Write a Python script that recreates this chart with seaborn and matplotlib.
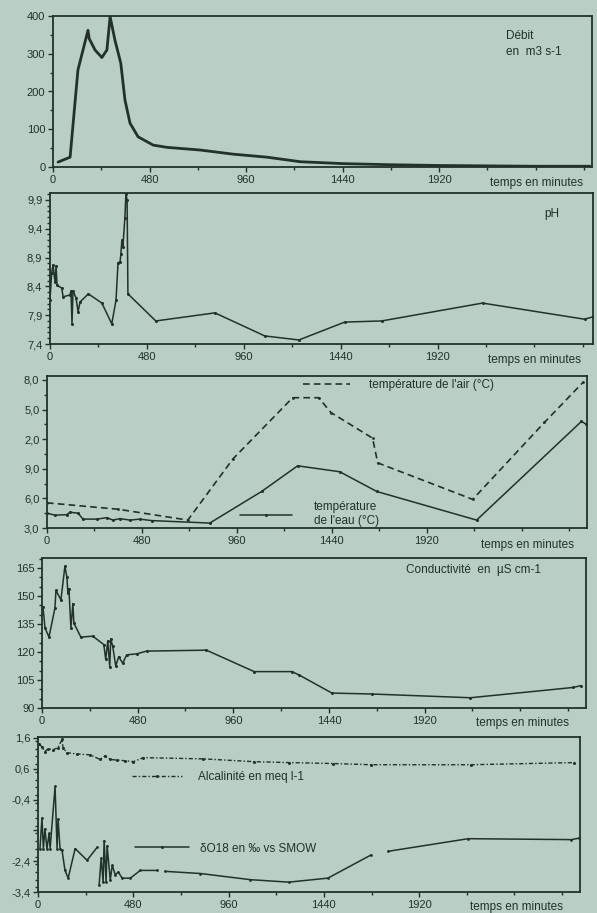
import numpy as np
import pandas as pd
import seaborn as sns
import matplotlib.pyplot as plt
from matplotlib.lines import Line2D
from matplotlib.ticker import MultipleLocator, FixedLocator

# ---- data (time in minutes) ----
debit_t = [25, 85, 124, 174, 180, 209, 243, 268, 284, 308, 337, 358, 383, 423,
           498, 567, 731, 896, 1064, 1229, 1440, 1680, 1920, 2160, 2400, 2670]
debit_q = [13, 26, 257, 362, 340, 310, 290, 310, 398, 336, 275, 177, 116, 80,
           58, 52, 45, 34, 26, 14, 9, 6, 4, 3, 2, 2]

ph_t = [0, 8, 15, 25, 30, 35, 58, 65, 99, 104, 109, 114, 129, 139, 149, 190,
        257, 306, 327, 337, 347, 351, 356, 361, 371, 376, 382, 386, 524, 817,
        1064, 1233, 1460, 1643, 2143, 2648, 2688]
ph_v = [8.16, 8.63, 8.77, 8.47, 8.75, 8.42, 8.37, 8.22, 8.25, 8.32, 7.75, 8.32,
        8.20, 7.96, 8.13, 8.27, 8.11, 7.75, 8.16, 8.81, 8.82, 8.96, 9.20, 9.08,
        9.59, 10.0, 9.9, 8.27, 7.80, 7.94, 7.54, 7.47, 7.78, 7.80, 8.11, 7.83,
        7.87]

air_t = [0, 360, 712, 940, 1242, 1374, 1435, 1646, 1672, 2152, 2515, 2712]
air_v = [5.55, 4.9, 3.8, 10.0, 16.2, 16.2, 14.7, 12.1, 9.6, 5.9, 13.7, 17.8]

eau_t = [0, 40, 100, 116, 157, 182, 252, 303, 333, 369, 419, 470, 530, 823,
         1085, 1267, 1480, 1667, 2172, 2702, 2727]
eau_v = [4.5, 4.3, 4.35, 4.6, 4.5, 3.9, 3.9, 4.05, 3.8, 3.95, 3.8, 3.9, 3.75,
         3.5, 6.7, 9.3, 8.7, 6.7, 3.8, 13.8, 13.5]

cond_t = [5, 15, 35, 65, 70, 95, 115, 125, 130, 135, 145, 155, 160, 195, 255,
          310, 320, 330, 340, 345, 355, 370, 385, 405, 425, 475, 525, 825,
          1065, 1255, 1290, 1455, 1655, 2150, 2665, 2705]
cond_v = [144, 133, 128, 143.6, 153, 148, 166, 160, 151.5, 154, 133, 146, 135.5,
          128, 128.5, 124, 116, 126, 112, 127, 123, 112.5, 117.5, 114, 118.5,
          119, 120.5, 121, 109.5, 109.5, 107.7, 98, 97.5, 95.5, 101, 102]

alc_t = [5, 20, 35, 50, 76, 101, 121, 126, 146, 197, 263, 313, 338, 364, 399,
         439, 480, 530, 833, 1086, 1263, 1485, 1677, 2182, 2702]
alc_v = [1.41, 1.31, 1.15, 1.25, 1.22, 1.28, 1.55, 1.28, 1.12, 1.08, 1.05, 0.9,
         1.02, 0.9, 0.88, 0.86, 0.83, 0.96, 0.92, 0.83, 0.8, 0.77, 0.73, 0.73,
         0.8]

# NaN = gap in the printed line
o18_t = [10, 20, 27, 35, 45, 56, 61, 86, 96, 101, 111, 121, 136, 152, 187, 247,
         298, 303, 308, 318, 328, 333, 343, 348, 364, 374, 389, 404, 424, 465,
         515, 601, 620, 641, 818, 1070, 1263, 1460, 1677, 1720, 1763, 2167,
         2687, 2727]
o18_v = [-1.99, -1.0, -1.99, -1.35, -1.99, -1.5, -1.99, 0.03, -1.99, -1.03,
         -1.99, -2.05, -2.7, -2.95, -1.99, -2.37, -1.95, np.nan, -3.17, -2.3,
         -3.08, -1.73, -3.08, -1.9, -3.01, -2.53, -2.85, -2.75, -2.95, -2.95,
         -2.7, -2.7, np.nan, -2.73, -2.8, -3.0, -3.08, -2.95, -2.2, np.nan,
         -2.08, -1.67, -1.7, -1.65]

xticks = [0, 480, 960, 1440, 1920]
temp_ticks = [3, 6, 9, 12, 15, 18]
temp_labels = ['3,0', '6,0', '9,0', '2,0', '5,0', '8,0']

BG = '#b9cec5'
INK = '#22322b'
FS = 8.5

sns.set_theme(style='white')
plt.rcParams['font.family'] = ['Liberation Sans', 'DejaVu Sans']
plt.rcParams['text.color'] = INK
plt.rcParams['axes.edgecolor'] = INK
plt.rcParams['xtick.color'] = INK
plt.rcParams['ytick.color'] = INK

W, H = 597, 913
fig = plt.figure(figsize=(W / 100, H / 100), dpi=100, facecolor=BG)


def box(l, t, r, b):
    return fig.add_axes([l / W, 1 - b / H, (r - l) / W, (b - t) / H])


def style(ax, xmax, ymin, ymax, ymin_step=None):
    ax.set_facecolor(BG)
    ax.set_xlim(0, xmax)
    ax.set_ylim(ymin, ymax)
    ax.xaxis.set_major_locator(FixedLocator(xticks))
    ax.xaxis.set_minor_locator(MultipleLocator(240))
    if ymin_step:
        ax.yaxis.set_minor_locator(MultipleLocator(ymin_step))
    for s in ax.spines.values():
        s.set_linewidth(1.3)
        s.set_color(INK)
    ax.tick_params(which='both', direction='out', width=1, labelsize=8,
                   bottom=True, left=True, pad=2)
    ax.tick_params(which='major', length=3.5)
    ax.tick_params(which='minor', length=2)
    ax.set_xlabel('')
    ax.set_ylabel('')


def temps(x, y):
    fig.text(x / W, 1 - y / H, 'temps en minutes', fontsize=FS,
             ha='left', va='center')


def draw(ax, t, v, **kw):
    df = pd.DataFrame({'t': t, 'v': v})
    df['seg'] = df['v'].isna().cumsum()
    df = df.dropna()
    sns.lineplot(data=df, x='t', y='v', units='seg', estimator=None,
                 sort=False, ax=ax, color=INK, **kw)


# 1 - débit
ax1 = box(53, 16, 592, 167)
draw(ax1, debit_t, debit_q, linewidth=2.0)
style(ax1, 2680, 0, 400, 50)
ax1.set_yticks([0, 100, 200, 300, 400])
ax1.text(0.84, 0.91, 'Débit\nen  m3 s-1', transform=ax1.transAxes,
         fontsize=FS, va='top', ha='left', linespacing=1.5)
temps(490, 183)

# 2 - pH
ax2 = box(50, 193, 593, 344)
draw(ax2, ph_t, ph_v, linewidth=1.1, marker='o', markersize=2.2,
     markeredgewidth=0)
style(ax2, 2690, 7.4, 10.02, 0.1)
ax2.set_yticks([7.4, 7.9, 8.4, 8.9, 9.4, 9.9])
ax2.set_yticklabels(['7,4', '7,9', '8,4', '8,9', '9,4', '9,9'])
ax2.text(0.91, 0.84, 'pH', transform=ax2.transAxes, fontsize=FS)
temps(488, 360)

# 3 - températures
ax3 = box(47, 376, 587, 528)
draw(ax3, air_t, air_v, linewidth=1.2, linestyle=(0, (4, 2.5)),
     marker='o', markersize=2, markeredgewidth=0)
draw(ax3, eau_t, eau_v, linewidth=1.1, marker='o', markersize=2.2,
     markeredgewidth=0)
style(ax3, 2730, 3, 18.4, 1.5)
ax3.set_yticks(temp_ticks)
ax3.set_yticklabels(temp_labels)
h_air = Line2D([], [], color=INK, linewidth=1.2, linestyle=(0, (4, 2.5)))
leg = ax3.legend([h_air], ["température de l'air (°C)"], loc='center left',
                 bbox_to_anchor=(0.465, 0.94), frameon=False, fontsize=FS,
                 handlelength=4.0, handletextpad=1.6, borderaxespad=0)
ax3.add_artist(leg)
h_eau = Line2D([], [], color=INK, linewidth=1.1, marker='o', markersize=2.2,
               markevery=[1], markeredgewidth=0)
h_eau.set_data([0, 0.5, 1], [0, 0, 0])
ax3.legend([h_eau], ["température\nde l'eau (°C)"], loc='center left',
           bbox_to_anchor=(0.348, 0.09), frameon=False, fontsize=FS,
           handlelength=4.4, handletextpad=1.9, borderaxespad=0)
temps(481, 545)

# 4 - conductivité
ax4 = box(42, 558, 586, 708)
draw(ax4, cond_t, cond_v, linewidth=1.1, marker='o', markersize=2.2,
     markeredgewidth=0)
style(ax4, 2730, 90, 170.4, 5)
ax4.set_yticks([90, 105, 120, 135, 150, 165])
ax4.text(0.67, 0.9, 'Conductivité  en  µS cm-1', transform=ax4.transAxes,
         fontsize=FS)
temps(476, 723)

# 5 - alcalinité et oxygène 18
ax5 = box(38, 737, 580, 892)
draw(ax5, alc_t, alc_v, linewidth=1.0, linestyle=(0, (3, 1.5, 1, 1.5)),
     marker='o', markersize=2.2, markeredgewidth=0)
draw(ax5, o18_t, o18_v, linewidth=1.1, marker='o', markersize=2,
     markeredgewidth=0)
style(ax5, 2730, -3.4, 1.63, 0.25)
ax5.set_yticks([-3.4, -2.4, -1.4, -0.4, 0.6, 1.6])
ax5.set_yticklabels(['-3,4', '-2,4', '', '-0,4', '0,6', '1,6'])
h_alc = Line2D([], [], color=INK, linewidth=1.0,
               linestyle=(0, (3, 1.5, 1, 1.5)), marker='o', markersize=2.2,
               markevery=[1], markeredgewidth=0)
h_alc.set_data([0, 0.5, 1], [0, 0, 0])
leg5 = ax5.legend([h_alc], ['Alcalinité en meq l-1'], loc='center left',
                  bbox_to_anchor=(0.165, 0.74), frameon=False, fontsize=FS,
                  handlelength=4.2, handletextpad=1.4, borderaxespad=0)
ax5.add_artist(leg5)
h_o18 = Line2D([], [], color=INK, linewidth=1.1, marker='o', markersize=2.2,
               markevery=[1], markeredgewidth=0)
h_o18.set_data([0, 0.5, 1], [0, 0, 0])
ax5.legend([h_o18], ['δO18 en ‰ vs SMOW'], loc='center left',
           bbox_to_anchor=(0.17, 0.28), frameon=False, fontsize=FS,
           handlelength=4.6, handletextpad=0.9, borderaxespad=0)
temps(470, 907)

fig.savefig('out.png', dpi=100, facecolor=BG)
